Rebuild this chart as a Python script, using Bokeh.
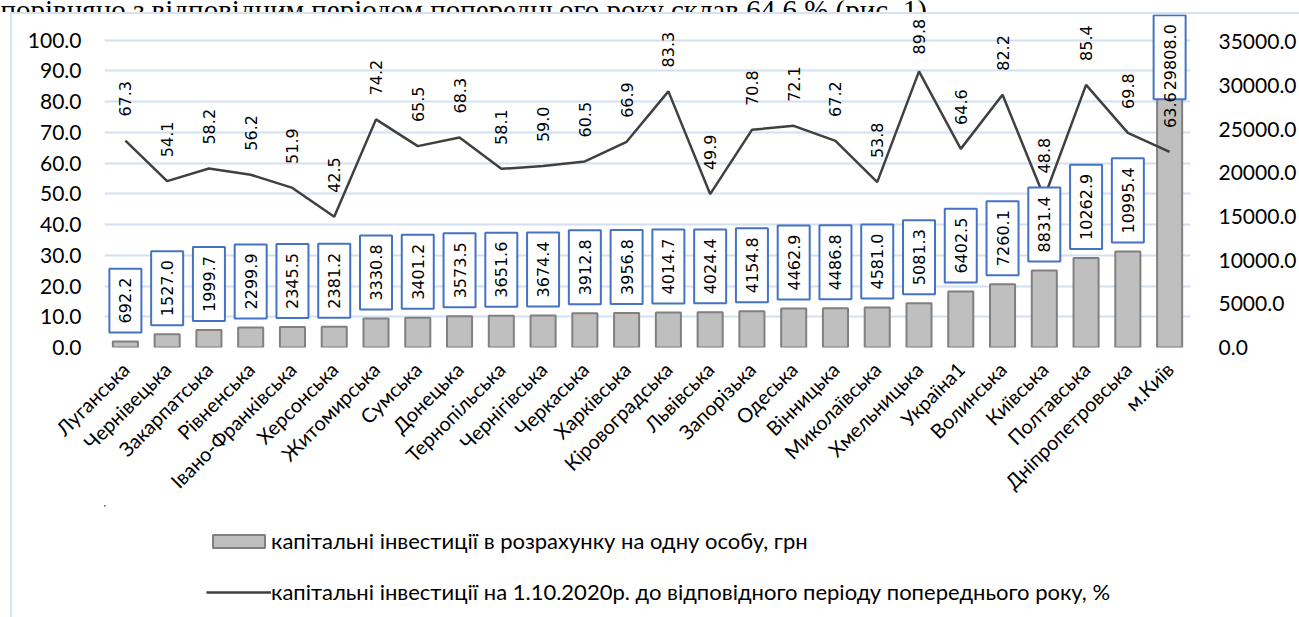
import math
from bokeh.plotting import figure
from bokeh.layouts import column
from bokeh.models import (ColumnDataSource, Range1d, LinearAxis, FixedTicker,
                          NumeralTickFormatter, LabelSet, Label, Legend, LegendItem,
                          FactorRange)
from bokeh.core.properties import value
from bokeh.embed import file_html
from bokeh.resources import INLINE

# ---------------- data ----------------
regions = ["Луганська", "Чернівецька", "Закарпатська", "Рівненська", "Івано-Франківська",
           "Херсонська", "Житомирська", "Сумська", "Донецька", "Тернопільська",
           "Чернігівська", "Черкаська", "Харківська", "Кіровоградська", "Львівська",
           "Запорізька", "Одеська", "Вінницька", "Миколаївська", "Хмельницька",
           "Україна1", "Волинська", "Київська", "Полтавська", "Дніпропетровська", "м.Київ"]

invest_per_capita = [692.2, 1527.0, 1999.7, 2299.9, 2345.5, 2381.2, 3330.8, 3401.2,
                     3573.5, 3651.6, 3674.4, 3912.8, 3956.8, 4014.7, 4024.4, 4154.8,
                     4462.9, 4486.8, 4581.0, 5081.3, 6402.5, 7260.1, 8831.4, 10262.9,
                     10995.4, 29808.0]

invest_index = [67.3, 54.1, 58.2, 56.2, 51.9, 42.5, 74.2, 65.5, 68.3, 58.1, 59.0, 60.5,
                66.9, 83.3, 49.9, 70.8, 72.1, 67.2, 53.8, 89.8, 64.6, 82.2, 48.8, 85.4,
                69.8, 63.6]

left_ticks = [0, 10, 20, 30, 40, 50, 60, 70, 80, 90, 100]
right_ticks = [0, 5000, 10000, 15000, 20000, 25000, 30000, 35000]

series_bar = "капітальні інвестиції в розрахунку на одну особу, грн"
series_line = "капітальні інвестиції на 1.10.2020р. до відповідного періоду попереднього року, %"
page_text = "порівняно з відповідним періодом попереднього року склав 64,6 % (рис. 1)."

# ---------------- style ----------------
TICK_FONT = "Lato"
LABEL_FONT = "DejaVu Sans"
GRID = "#d3e0f2"
BORDER = "#d6e1f1"
BAR_FILL, BAR_LINE, LINE_COL = "#bfbfbf", "#808080", "#404040"


def bare(fig):
    fig.outline_line_color = None
    fig.background_fill_color = "white"
    fig.border_fill_color = "white"
    for g in fig.grid:
        g.visible = False


# ---------------- strip of page text above the chart ----------------
top = figure(width=1299, height=12, x_range=Range1d(0, 1299), y_range=Range1d(0, 12),
             min_border=0, x_axis_location=None, y_axis_location=None,
             output_backend="svg", toolbar_location=None)
bare(top)
top.text(x=[0], y=[3], text=[page_text], text_font=value("Liberation Serif"),
         text_font_size="29px", text_baseline="alphabetic", text_align="left",
         text_color="#000000")

# ---------------- main chart ----------------
src = ColumnDataSource(dict(
    region=regions,
    pos=list(range(len(regions))),
    invest=invest_per_capita,
    index=invest_index,
    index_txt=[f"{v:.1f}" for v in invest_index],
    line_off=[24 if v < 88 else 17 for v in invest_index],
))

p = figure(x_range=FactorRange(*regions), y_range=Range1d(0, 108.31),
           width=1287, height=491,
           min_border_left=92, min_border_right=107, min_border_top=0, min_border_bottom=152,
           output_backend="svg", toolbar_location=None)
p.extra_y_ranges = {"right": Range1d(0, 38150)}
p.outline_line_color = None
p.background_fill_color = "white"
p.border_fill_color = "white"

yl = p.yaxis[0]
yl.ticker = FixedTicker(ticks=left_ticks)
yl.formatter = NumeralTickFormatter(format="0.0")
ry = LinearAxis(y_range_name="right", ticker=FixedTicker(ticks=right_ticks),
                formatter=NumeralTickFormatter(format="0.0"))
p.add_layout(ry, "right")

for ax in [yl, ry]:
    ax.axis_line_color = None
    ax.major_tick_line_color = None
    ax.minor_tick_line_color = None
    ax.major_label_text_font = TICK_FONT
    ax.major_label_text_font_size = "21px"
    ax.major_label_text_color = "#000000"
yl.major_label_standoff = 17
ry.major_label_standoff = 22

xa = p.xaxis[0]
xa.axis_line_color = None
xa.major_tick_line_color = None
xa.minor_tick_line_color = None
xa.major_label_orientation = math.pi / 4
xa.major_label_text_font = TICK_FONT
xa.major_label_text_font_size = "20px"
xa.major_label_text_color = "#000000"
xa.major_label_standoff = 12

p.xgrid.grid_line_color = None
p.ygrid.grid_line_color = GRID
p.ygrid.grid_line_width = 2

bar_style = dict(width=0.6, fill_color=BAR_FILL, line_color=BAR_LINE, line_width=2)
line_style = dict(line_color=LINE_COL, line_width=2.5)

p.vbar(x="region", top="invest", source=src, y_range_name="right", **bar_style)
p.line(x="region", y="index", source=src, **line_style)

# boxed bar labels (x: synthetic coordinate of each category centre on the factor range)
for i, v in enumerate(invest_per_capita):
    off = 9 if v < 25000 else -12
    p.add_layout(Label(x=i + 0.5, y=v, y_range_name="right", text=f"{v:.1f}",
                       angle=math.pi / 2, text_align="left", text_baseline="middle",
                       y_offset=off, padding=(9, 10),
                       text_font=LABEL_FONT, text_font_size="16px", text_color="#000000",
                       background_fill_color="white",
                       border_line_color="#4472c4", border_line_width=2))

# line value labels (drawn over the boxes)
p.add_layout(LabelSet(x="region", y="index", text="index_txt", source=src,
                      angle=math.pi / 2, text_align="left", text_baseline="middle",
                      y_offset="line_off",
                      text_font=value(LABEL_FONT), text_font_size="16px",
                      text_color="#000000"))

# ---------------- legend strip ----------------
# same series drawn again entirely outside this strip's visible ranges, only to feed the legend
leg = figure(width=1287, height=112, x_range=Range1d(1000, 1001),
             y_range=Range1d(-200000, -100000),
             min_border=0, x_axis_location=None, y_axis_location=None,
             output_backend="svg", toolbar_location=None)
bare(leg)
lb = leg.vbar(x="pos", top="invest", source=src, **bar_style)
ll = leg.line(x="pos", y="index", source=src, **line_style)
legend = Legend(items=[LegendItem(label=series_bar, renderers=[lb]),
                       LegendItem(label=series_line, renderers=[ll])],
                location=(102, 12), orientation="vertical",
                glyph_width=65, glyph_height=16, label_height=25, spacing=24,
                padding=0, margin=0, label_standoff=0,
                border_line_color=None, background_fill_alpha=0,
                label_text_font=TICK_FONT, label_text_font_size="22px",
                label_text_color="#000000")
leg.add_layout(legend)

framed = column(p, leg, spacing=0,
                styles={"margin-left": "10px", "border-left": f"2px solid {BORDER}",
                        "border-top": f"2px solid {BORDER}"})
page = column(top, framed, spacing=0)

open("out.html", "w").write(file_html(page, INLINE))
